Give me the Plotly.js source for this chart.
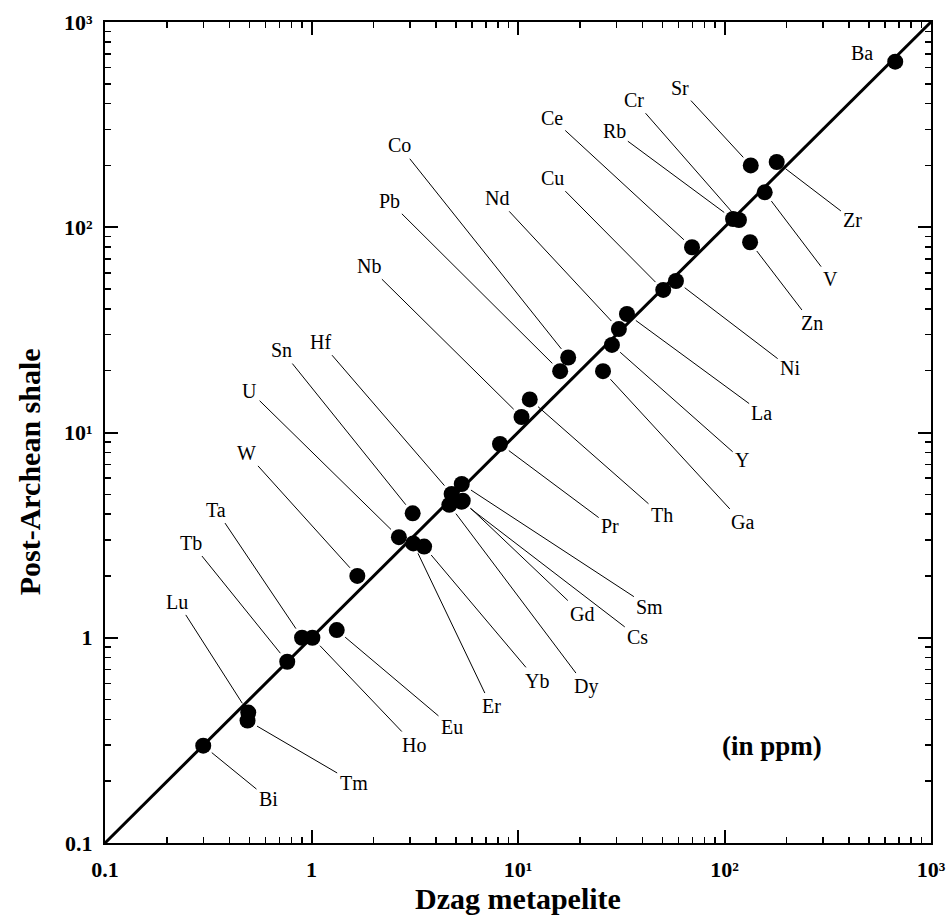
<!DOCTYPE html>
<html>
<head>
<meta charset="utf-8">
<script src="https://cdn.plot.ly/plotly-3.0.1.min.js"></script>
<style>
  html, body { margin: 0; padding: 0; background: #ffffff; }
  #chart { width: 948px; height: 915px; }
</style>
</head>
<body>
<div id="chart"></div>
<script>
// ---- Data (ppm) ----
const elements = ['Ba','Sr','Zr','V','Rb','Cr','Zn','Ce','Ni','Cu','La','Nd','Y','Ga','Co','Pb','Th','Nb','Pr',
                  'Sm','Hf','Gd','Cs','Dy','Sn','U','Er','Yb','W','Eu','Ta','Ho','Tb','Lu','Tm','Bi'];
const dzagMetapelite = [671, 134, 179, 156.6, 110, 117.5, 133, 69.6, 58.2, 50.5, 33.7, 30.8, 28.5, 25.8, 17.5, 16.0, 11.4, 10.4, 8.18,
                        5.34, 4.77, 5.40, 5.33, 4.65, 3.09, 2.65, 3.11, 3.51, 1.667, 1.325, 0.90, 1.01, 0.763, 0.494, 0.49, 0.299];
const postArcheanShale = [641, 200, 208, 148, 109.7, 108.5, 84.5, 79.9, 54.7, 49.5, 37.8, 31.9, 26.7, 19.9, 23.2, 19.9, 14.5, 11.9, 8.79,
                          5.61, 5.02, 4.65, 4.60, 4.44, 4.04, 3.09, 2.88, 2.78, 2.0, 1.09, 1.0, 1.0, 0.764, 0.432, 0.395, 0.298];
const oneToOneLine = [0.1, 1000];
const tickVals = [0.1, 1, 10, 100, 1000];
const tickText = ['0.1', '1', '10\u00B9', '10\u00B2', '10\u00B3'];

// ---- Label placement (pixel offsets of each label from its point) ----
const labelOffsets = {
  Ba: [-33, -9], Sr: [-71, -77], Zr: [76, 58], V: [66, 87], Rb: [-119, -88], Cr: [-105, -120],
  Zn: [62, 81], Ce: [-140, -129], Ni: [114, 87], Cu: [-111, -112], La: [135, 99], Nd: [-122, -131],
  Y: [130, 115], Ga: [139, 151], Co: [-169, -212], Pb: [-171, -170], Th: [132, 116], Nb: [-153, -151],
  Pr: [110, 82], Sm: [188, 123], Hf: [-131, -152], Gd: [119, 113], Cs: [176, 135], Dy: [137, 182],
  Sn: [-131, -163], U: [-149, -146], Er: [78, 163], Yb: [113, 134], W: [-111, -123], Eu: [115, 97],
  Ta: [-86, -128], Ho: [102, 107], Tb: [-96, -119], Lu: [-71, -111], Tm: [106, 62], Bi: [65, 53]
};
const noLeader = ['Ba'];

// minor tick positions (2..9 in each decade)
const minorVals = [];
for (let d = -1; d < 3; d++) {
  for (let m = 2; m <= 9; m++) minorVals.push(m * Math.pow(10, d));
}

const serif = 'Liberation Serif, Times New Roman, serif';

const traces = [
  {
    x: oneToOneLine, y: oneToOneLine, type: 'scatter', mode: 'lines',
    line: { color: '#000', width: 3 }, hoverinfo: 'skip', showlegend: false
  },
  {
    x: dzagMetapelite, y: postArcheanShale, text: elements, type: 'scatter', mode: 'markers',
    marker: { color: '#000', size: 16, line: { width: 0 } }, showlegend: false, cliponaxis: false
  }
];

const annotations = elements.map((el, i) => {
  const off = labelOffsets[el];
  const hide = noLeader.indexOf(el) >= 0;
  return {
    x: Math.log10(dzagMetapelite[i]), y: Math.log10(postArcheanShale[i]),
    xref: 'x', yref: 'y', text: el, showarrow: true,
    ax: off[0], ay: off[1],
    arrowhead: 0, arrowwidth: 1, arrowcolor: hide ? 'rgba(0,0,0,0)' : '#000',
    standoff: 11, startstandoff: 1,
    font: { family: serif, size: 20, color: '#000' }
  };
});

annotations.push({
  xref: 'paper', yref: 'paper', x: 0.808, y: 0.1185, xanchor: 'center', yanchor: 'middle',
  text: '(in ppm)', showarrow: false,
  font: { family: serif, size: 27, color: '#000', weight: 'bold' }
});
annotations.push({
  xref: 'paper', yref: 'paper', x: -0.091, y: 0.4525, xanchor: 'center', yanchor: 'middle',
  text: 'Post-Archean shale', showarrow: false, textangle: -90,
  font: { family: serif, size: 30, color: '#000', weight: 'bold' }
});

const axisCommon = {
  type: 'log', range: [-1, 3], tickmode: 'array', tickvals: tickVals, ticktext: tickText,
  ticks: 'inside', ticklen: 13, tickwidth: 2, tickcolor: '#000',
  showline: true, linecolor: '#000', linewidth: 2, mirror: 'ticks',
  showgrid: false, zeroline: false,
  tickfont: { family: serif, size: 22, color: '#000', weight: 'bold' },
  minor: { tickmode: 'array', tickvals: minorVals, ticks: 'inside', ticklen: 6, tickwidth: 1.5, tickcolor: '#000', showgrid: false }
};

const layout = {
  width: 948, height: 915,
  margin: { l: 105, r: 17, t: 22, b: 72 },
  paper_bgcolor: '#fff', plot_bgcolor: '#fff',
  showlegend: false,
  xaxis: Object.assign({}, axisCommon, {
    ticklabelstandoff: 6,
    title: { text: 'Dzag metapelite', font: { family: serif, size: 30, color: '#000', weight: 'bold' }, standoff: 6 }
  }),
  yaxis: Object.assign({}, axisCommon, {
    ticklabelstandoff: 6
  }),
  annotations: annotations
};

Plotly.newPlot('chart', traces, layout, { displayModeBar: false, staticPlot: true });
</script>
</body>
</html>
